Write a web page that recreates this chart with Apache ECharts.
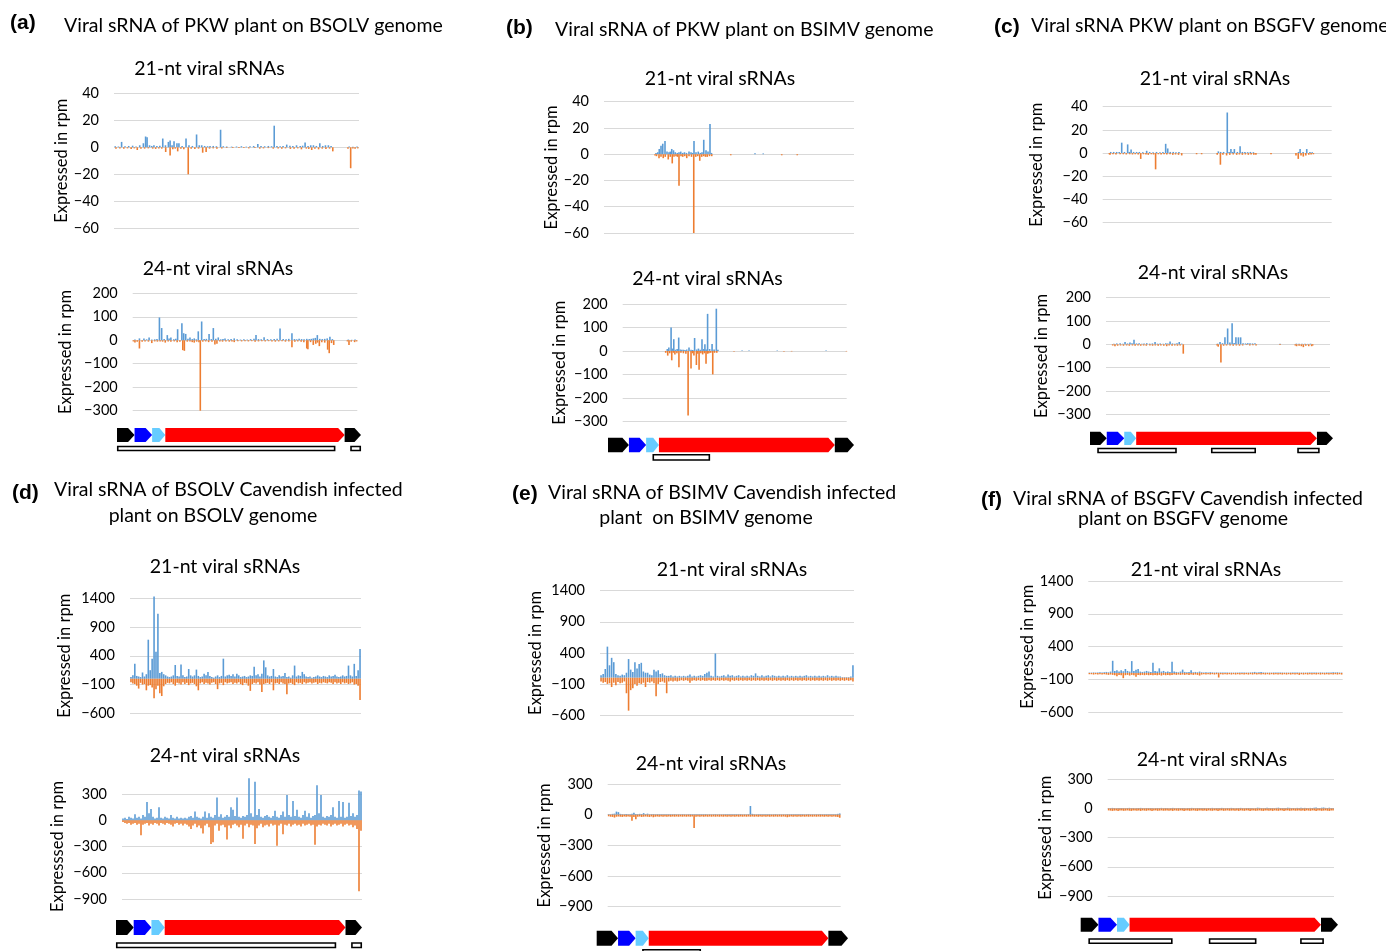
<!DOCTYPE html>
<html><head><meta charset="utf-8">
<script src="https://cdn.jsdelivr.net/npm/echarts@6/dist/echarts.min.js"></script>
<style>html,body{margin:0;padding:0;background:#fff}#c{width:1386px;height:951px}</style>
</head><body><div id="c"></div><script>
// ---------------- DATA (x = position along genome in %, y = rpm) ----------------
const a21Pos = [[0.5,0.8],[1.8,0.6],[3.1,4],[4.5,0.8],[6,1],[7.6,1.2],[9,0.6],[10.5,1.5],[12,3],[12.9,8],[13.5,7.5],[14.5,1.5],[15.4,1],[16.3,1.5],[17.5,1],[18.7,1.2],[19.9,6.5],[21,1.5],[22.2,4],[22.9,5],[23.7,1.5],[24.5,4.5],[25.7,3],[26.5,3],[27.8,1],[29.4,6.5],[30.6,1.5],[32,1],[33.7,9.5],[34.8,1.5],[35.8,1.5],[37,1],[38.2,0.8],[39.2,1],[40.5,1],[41.8,0.8],[43.5,13],[44.6,0.8],[46,0.6],[48,0.5],[50,0.6],[52,0.8],[54,0.5],[55.5,0.8],[57,1],[58.7,2.5],[60,1],[61.5,0.8],[63,1],[64.3,0.8],[65.4,16],[66.5,1],[67.8,0.8],[69,1],[70.5,2],[71.8,1.2],[73,1],[74.5,1.5],[76,1],[77,1.2],[78,3.5],[79.2,1],[80.3,1.5],[81.4,1.5],[82.6,1],[84,3],[85.2,1],[86.3,1.5],[87.5,1.5],[88.6,1],[96,0.6],[97.5,0.5],[99.2,0.6]];
const a21Neg = [[0.8,-1],[2.4,-0.8],[4,-1],[5.5,-0.8],[7,-1.2],[8.3,-0.8],[9.5,-2],[11,-1],[12.5,-1],[14,-0.8],[15.8,-1],[17,-1.2],[18.3,-0.8],[19.5,-1],[21.1,-3.5],[22.9,-6],[24,-1.5],[25,-1],[26,-3],[27.3,-1],[28.5,-1.5],[30.3,-20],[31.5,-1],[33,-1.2],[34.5,-1],[36.2,-4],[37.6,-3.5],[39,-1],[40.5,-0.8],[42,-1],[44,-0.8],[46,-0.5],[48.5,-0.6],[51,-0.5],[53,-0.6],[55,-0.8],[57.5,-0.6],[59.5,-1],[61,-0.8],[63,-0.6],[65,-1],[67,-0.8],[68.5,-1],[70,-0.8],[72,-1.2],[73.5,-1],[75,-0.8],[76.5,-1.5],[78.5,-1],[79.5,-1.2],[80.7,-2],[82,-1],[83.5,-1.5],[85,-1],[86.5,-1.2],[88,-1],[89.3,-3],[95.5,-1],[96.6,-15.5],[97.5,-0.8],[98.4,-1],[99.5,-0.8]];
const a24Pos = [[1,3],[3,8],[5,8],[6.2,4],[7.3,12],[8.5,3],[9.8,4],[10.8,5],[11.9,97],[12.9,52],[14,5],[15.4,22],[16.2,8],[17,12],[18.3,4],[19.2,6],[20,47],[21.9,72],[22.7,30],[23.6,27],[24.6,6],[25.5,12],[26.5,5],[27.4,8],[28.3,4],[29.2,38],[30.7,80],[31.8,5],[32.8,6],[34,27],[35,5],[35.9,52],[37,6],[38.1,12],[39.2,4],[40.2,5],[41.1,7],[42.5,4],[43.8,5],[45.2,8],[46.5,4],[48,3],[49.5,4],[51,3],[52.5,5],[54,6],[54.9,22],[56,5],[57.2,4],[58.5,13],[60,5],[61.5,4],[63,5],[64.3,6],[65.6,50],[67,5],[68.3,4],[69.5,6],[70.9,30],[72,5],[73,4],[74.1,6],[75.2,5],[76.3,4],[77.5,6],[78.6,5],[79.5,6],[80.4,8],[81.3,10],[82.2,22],[83.3,6],[84.4,5],[85.5,6],[86.6,8],[87.8,15],[88.9,5],[96,3],[97.5,2],[99,3]];
const a24Neg = [[0.3,-5],[1,-10],[2,-6],[3,-35],[4.2,-6],[5.5,-5],[7,-6],[8.5,-12],[9.8,-5],[11,-6],[12.2,-5],[13.3,-6],[14.5,-10],[15.8,-5],[17,-6],[18.5,-5],[19.8,-8],[21,-6],[22.3,-42],[23,-45],[24.3,-6],[25.5,-5],[26.5,-8],[27.4,-10],[28.5,-6],[29.5,-8],[30.1,-300],[31.2,-6],[32.5,-5],[33.8,-8],[35.3,-6],[36.6,-18],[37.5,-15],[38.8,-5],[40,-6],[41.5,-5],[43,-6],[44.2,-5],[45.2,-8],[46.8,-4],[48.5,-5],[50,-4],[51.5,-5],[53,-4],[54.5,-6],[56,-5],[57.5,-4],[59,-5],[60.5,-4],[62,-5],[63.5,-6],[65,-5],[66.5,-4],[68,-6],[69.5,-5],[70.9,-30],[72.2,-6],[73.5,-5],[75,-6],[76.2,-8],[77.5,-35],[78,-38],[79.2,-8],[80.4,-20],[81.5,-15],[82.3,-10],[83.1,-25],[84.2,-8],[85.5,-10],[86.8,-40],[87.5,-55],[88.5,-12],[89.5,-20],[95.6,-5],[96.3,-20],[97.3,-6],[98.8,-8],[99.7,-5]];
const b21Pos = [[20.8,1],[21.5,1.5],[22.1,4],[22.8,6.5],[23.5,8],[24.4,10],[25.2,2],[26,1.5],[26.5,2],[27.1,4],[27.8,3],[28.5,1.5],[29.3,1],[30,1.5],[30.7,2],[31.5,1],[32.2,1.5],[33,1],[34,2],[34.8,1.5],[35.4,1],[36,10],[36.8,1.5],[37.7,2],[38.5,1],[39.2,1.5],[39.9,11],[40.8,3],[41.6,2],[42.4,23],[43,1],[60.4,0.8],[63.7,0.6]];
const b21Neg = [[20.4,-1],[21,-1.5],[22,-3],[22.8,-2],[23.7,-3],[24.5,-2],[25.7,-4],[26.5,-2],[27.3,-7],[28,-2],[28.8,-1.5],[29.4,-2],[30,-24],[30.8,-1.5],[31.5,-2],[32.3,-1.5],[33.1,-3],[34,-1.5],[35,-2],[35.9,-60],[36.7,-2],[37.5,-1.5],[38.3,-5],[39.1,-2],[39.9,-1.5],[40.6,-2],[41.3,-2],[42.2,-1.5],[43.1,-1.5],[50.7,-0.8],[71.1,-0.8],[77.3,-0.8]];
const b24Pos = [[19.9,8],[20.6,15],[21.6,100],[22.2,10],[22.8,50],[23.5,5],[24.3,8],[25,57],[25.7,6],[26.4,5],[27.1,5],[27.8,4],[28.6,6],[29.6,15],[30.5,5],[31.3,4],[32.1,55],[33,6],[33.8,10],[34.6,5],[35.4,50],[36.1,8],[36.7,28],[37.3,6],[37.9,158],[38.8,8],[39.9,30],[40.8,6],[41.8,180],[42.5,5],[53.3,2],[56.4,2],[69,2],[90.8,2]];
const b24Neg = [[19.2,-8],[20.1,-20],[21,-10],[21.9,-40],[22.6,-8],[23.3,-15],[24.2,-10],[25.1,-70],[26,-8],[27.1,-10],[28.2,-12],[29.2,-275],[30.5,-75],[31.2,-10],[31.8,-20],[32.9,-60],[33.5,-12],[34.1,-80],[34.9,-10],[35.7,-15],[36.5,-10],[37.2,-55],[37.9,-12],[38.5,-10],[39.3,-8],[40.2,-100],[41,-8],[42,-8],[49.7,-2],[72,-2],[75.4,-2],[99.9,-2]];
const c21Pos = [[3.5,1],[4.8,1],[6.1,1],[7.2,1],[8.3,9],[9.5,1],[10.9,7.5],[11.6,1],[12.4,3],[13.5,1],[14.8,1],[16,1],[17.5,0.8],[19.2,2],[20.5,1],[22,0.8],[23.5,1],[25,0.8],[26.3,1],[27.5,8],[28.4,4],[29.5,1],[30.8,1],[32,0.8],[33.3,1],[50.5,1.5],[51.5,1],[52.8,1],[54.4,35],[55.2,1],[56,3.5],[56.8,1],[57.5,3.5],[58.8,1],[60,6],[61,1],[62.1,1],[63.3,0.8],[64.5,1],[65.8,0.8],[85.5,1],[86.2,3.5],[87.5,1],[89.1,3.5],[90.5,1],[91.5,0.8]];
const c21Neg = [[2.9,-1],[3.2,-1.5],[4.5,-1],[5.8,-1.2],[7.6,-1],[9,-1],[10.3,-1.2],[11.8,-1],[13,-1.2],[14.2,-1],[15.5,-1.2],[16.6,-5],[17.8,-1],[18.9,-1.2],[19.9,-1.5],[21.2,-1],[22.2,-1.2],[23.1,-14],[24.3,-1],[25.5,-1.2],[26.8,-1],[28,-1.2],[29.4,-1],[30.6,-1.5],[31.8,-1.2],[33.1,-1.5],[34.5,-2],[41,-1],[43.2,-1],[50,-1.5],[51.4,-10],[52.5,-1.5],[54.1,-2],[55.5,-1.5],[57,-1.2],[58.5,-1.5],[59.7,-1.2],[61,-1.5],[62.3,-1.2],[63.6,-1.5],[64.8,-1.2],[66,-1.5],[66.9,-1.5],[73.5,-1],[84.4,-2],[85.4,-5],[86.6,-2],[87.6,-3],[88.7,-2],[90,-1.5],[91,-1.2],[92,-1]];
const c24Pos = [[3.5,3],[4.8,4],[6.3,5],[7.5,3],[8.5,10],[9.6,4],[10.7,8],[11.6,5],[12.5,20],[13.6,4],[14.8,5],[16,3],[17,4],[18.2,5],[19.5,3],[20.7,4],[21.9,10],[23,3],[24.2,4],[25.5,3],[26.7,5],[27.6,4],[28.6,12],[29.7,4],[30.8,3],[31.7,5],[32.7,10],[33.8,3],[49.8,3],[50.9,10],[52,5],[53.1,30],[54.3,68],[55.3,8],[56.3,90],[57.2,6],[58,30],[59.1,30],[60.1,30],[61.2,5],[62.3,4],[63.3,5],[64.3,5],[65.4,4],[66.5,5],[77.7,2],[85,3],[86.2,2],[87.5,3],[88.8,3],[90,2],[91.3,3]];
const c24Neg = [[3,-5],[4,-8],[5.2,-6],[6.5,-5],[7.8,-6],[9.2,-5],[10.4,-6],[11.8,-5],[13,-6],[14.3,-5],[15.5,-6],[16.8,-5],[18,-6],[19.6,-5],[20.8,-6],[22,-5],[23.3,-6],[24.5,-5],[25.8,-6],[27.1,-8],[28.2,-5],[29.5,-6],[30.7,-5],[31.9,-6],[33.1,-5],[34.5,-40],[49.6,-5],[50.1,-10],[51.3,-78],[52.5,-6],[53.8,-5],[55.4,-5],[56.8,-6],[58.2,-5],[59.6,-6],[61,-5],[62.8,-3],[64.2,-5],[65.6,-4],[67,-5],[77.7,-3],[84.5,-5],[85.1,-8],[86.2,-6],[87.2,-8],[88.1,-12],[89.2,-6],[90.5,-8],[91.8,-8],[92.3,-5]];
// dense panels: evenly spaced bins along the genome
const d21Pos = [30,60,260,50,40,30,110,40,80,680,150,350,1430,470,1130,100,120,80,60,40,30,40,60,240,50,40,250,60,30,40,170,60,40,60,160,50,30,40,90,60,120,50,30,20,40,60,30,50,350,40,60,70,50,80,40,90,60,30,40,50,30,40,60,50,210,60,80,40,90,320,200,60,40,50,170,40,30,60,40,50,100,30,40,20,60,230,40,60,50,120,80,40,30,40,20,30,40,60,40,30,50,40,30,60,40,50,70,40,30,40,60,40,50,230,60,40,260,50,150,520];
const d21Neg = [-60,-80,-90,-120,-170,-70,-100,-90,-200,-120,-110,-150,-340,-180,-120,-250,-300,-130,-90,-70,-80,-60,-90,-120,-70,-80,-100,-60,-90,-70,-110,-80,-70,-90,-130,-200,-80,-60,-90,-70,-80,-100,-70,-60,-90,-180,-80,-70,-110,-60,-80,-70,-60,-90,-70,-80,-60,-90,-110,-70,-80,-120,-210,-90,-70,-80,-60,-100,-230,-90,-80,-70,-90,-60,-200,-80,-70,-90,-60,-80,-90,-270,-80,-70,-90,-110,-60,-80,-70,-90,-60,-80,-70,-60,-80,-70,-60,-90,-70,-80,-60,-70,-80,-60,-70,-90,-60,-80,-70,-90,-60,-80,-70,-90,-80,-60,-100,-90,-120,-370];
const d24Pos = [20,30,15,40,30,20,70,30,40,20,60,40,210,80,130,40,20,30,150,30,20,40,30,20,60,30,20,40,20,30,20,30,20,40,50,30,100,40,30,20,40,100,30,80,40,30,60,260,40,70,30,40,60,40,150,120,50,260,40,30,50,40,60,480,80,40,440,60,130,40,30,50,60,40,30,50,110,40,30,60,100,40,290,60,40,220,50,120,40,30,60,110,40,80,30,50,60,400,80,290,40,30,50,40,60,150,40,30,220,40,210,30,40,200,50,80,40,60,340,330];
const d24Neg = [-20,-30,-40,-30,-50,-40,-30,-50,-40,-170,-50,-40,-30,-60,-40,-50,-30,-40,-60,-30,-40,-50,-30,-40,-50,-70,-40,-30,-50,-40,-60,-40,-50,-70,-100,-60,-40,-80,-60,-90,-150,-60,-40,-80,-270,-250,-60,-40,-120,-60,-50,-80,-220,-60,-90,-50,-40,-60,-80,-50,-210,-60,-40,-80,-50,-60,-270,-90,-60,-40,-80,-60,-50,-70,-40,-60,-50,-290,-60,-40,-160,-50,-60,-40,-70,-50,-40,-60,-50,-70,-40,-60,-50,-40,-60,-50,-280,-70,-50,-60,-40,-50,-60,-40,-70,-50,-40,-60,-50,-40,-70,-50,-40,-60,-50,-80,-60,-100,-810,-120];
const e21Pos = [40,60,140,500,200,320,250,60,40,30,50,40,80,300,130,90,250,150,220,240,100,80,80,50,40,130,100,120,60,70,40,30,30,40,20,30,20,30,20,30,20,30,50,20,30,20,30,40,30,60,80,100,30,20,390,30,20,30,40,20,50,30,40,20,30,40,20,30,20,30,20,40,30,70,30,20,40,20,30,40,20,40,30,20,30,20,30,20,40,20,30,20,30,20,30,20,30,40,20,30,20,30,20,30,20,30,20,40,20,30,20,30,20,20,10,10,10,10,20,200];
const e21Neg = [-60,-80,-70,-100,-90,-150,-80,-120,-70,-90,-80,-60,-250,-530,-200,-170,-100,-130,-90,-100,-80,-150,-70,-80,-60,-90,-300,-100,-70,-60,-80,-250,-60,-50,-60,-50,-60,-50,-40,-50,-40,-50,-80,-50,-40,-50,-40,-50,-40,-50,-50,-40,-50,-40,-50,-40,-50,-40,-50,-40,-50,-60,-40,-50,-40,-50,-40,-50,-40,-50,-40,-50,-40,-50,-40,-50,-40,-50,-40,-50,-40,-50,-40,-50,-40,-50,-40,-50,-40,-50,-40,-50,-40,-50,-40,-50,-40,-50,-40,-50,-40,-50,-40,-50,-40,-50,-40,-50,-40,-50,-40,-50,-40,-50,-40,-50,-40,-50,-40,-60];
const e24Pos = [5,3,8,10,30,25,8,5,4,6,5,4,8,20,6,5,8,6,15,5,10,4,5,6,4,5,3,4,5,3,4,5,3,4,5,3,4,3,5,4,3,4,5,3,4,3,5,4,3,4,5,3,4,3,4,5,3,4,3,4,5,3,4,3,5,4,3,4,5,3,4,3,5,85,8,4,3,4,5,3,4,3,5,4,3,4,5,3,4,3,4,3,5,4,3,4,3,4,5,3,4,3,4,5,3,4,3,4,3,5,4,3,4,3,4,5,3,4,8,12];
const e24Neg = [-16,-20,-22,-28,-20,-18,-20,-22,-18,-20,-18,-20,-60,-22,-45,-20,-18,-22,-20,-18,-20,-22,-18,-25,-20,-18,-20,-18,-20,-18,-20,-18,-20,-18,-20,-18,-20,-18,-20,-18,-20,-18,-20,-18,-130,-20,-18,-20,-18,-20,-18,-20,-18,-20,-18,-20,-18,-20,-18,-20,-18,-20,-18,-20,-18,-20,-18,-20,-18,-20,-18,-20,-18,-20,-18,-20,-18,-20,-18,-20,-18,-20,-18,-20,-18,-20,-18,-20,-18,-20,-18,-20,-25,-20,-18,-20,-18,-20,-18,-20,-18,-20,-18,-20,-18,-20,-18,-20,-18,-20,-18,-20,-18,-20,-18,-20,-18,-20,-22,-30];
const f21Pos = [5,5,8,5,6,10,8,10,15,10,20,185,30,40,20,40,25,60,30,20,180,30,50,60,20,15,20,30,20,15,155,30,20,70,20,30,15,20,15,170,20,15,10,20,50,15,10,15,40,10,15,10,20,10,8,10,8,10,8,6,8,6,5,6,5,6,5,6,5,6,5,6,5,6,5,6,8,10,15,8,10,15,8,6,5,6,5,6,5,6,5,6,5,6,5,6,5,6,5,6,5,6,5,6,8,6,5,6,5,8,6,5,8,6,8,10,8,10,6,5];
const f21Neg = [-20,-20,-25,-20,-25,-20,-25,-20,-25,-30,-25,-30,-35,-50,-30,-35,-80,-35,-30,-40,-30,-35,-60,-30,-35,-30,-35,-30,-35,-30,-35,-30,-35,-30,-40,-30,-35,-30,-35,-30,-25,-30,-25,-30,-25,-30,-25,-30,-25,-30,-25,-30,-40,-25,-20,-25,-20,-25,-20,-25,-20,-70,-20,-25,-20,-25,-20,-25,-20,-25,-20,-25,-20,-25,-20,-25,-20,-25,-20,-25,-20,-25,-20,-25,-20,-25,-20,-25,-20,-25,-20,-25,-20,-25,-20,-25,-20,-25,-20,-30,-20,-25,-20,-25,-20,-25,-20,-25,-20,-25,-20,-25,-20,-25,-20,-25,-20,-25,-20,-25];
const f24Pos = [5,4,6,5,3,4,6,5,4,3,5,6,4,5,3,4,5,6,4,3,5,4,6,5,3,4,5,4,6,3,5,4,3,5,6,4,3,5,4,6,5,3,4,5,6,4,3,5,4,6,5,4,3,5,4,6,3,5,4,5,6,4,3,5,4,6,5,3,4,5,6,4,3,5,4,6,5,3,4,8,6,4,3,5,8,6,4,5,3,6,8,5,4,6,5,8,6,4,5,3,6,5,8,4,6,5,3,6,5,8,10,6,5,8,10,6,5,8,6,5];
const f24Neg = [-20,-22,-25,-22,-20,-25,-22,-20,-24,-22,-20,-23,-25,-22,-20,-24,-22,-25,-20,-22,-24,-20,-22,-25,-22,-20,-24,-22,-20,-23,-22,-20,-24,-22,-25,-20,-22,-24,-20,-22,-25,-22,-20,-24,-22,-20,-23,-25,-22,-20,-24,-22,-25,-20,-22,-24,-20,-22,-25,-22,-20,-24,-22,-20,-23,-22,-20,-24,-22,-25,-20,-22,-24,-20,-22,-25,-22,-20,-24,-22,-20,-23,-25,-22,-20,-24,-22,-25,-20,-22,-24,-20,-22,-25,-22,-20,-24,-22,-20,-23,-22,-20,-24,-22,-25,-20,-22,-24,-20,-22,-25,-22,-20,-24,-22,-20,-23,-25,-22,-20];

// genome maps: [start %, end %, colour index]
const bsolvGenes = [[0,7.2,0],[7.2,14.4,1],[14.4,19.8,2],[19.8,93.3,3],[93.3,100,0]];
const bsolvBoxes = [[0,89.5],[95.6,100]];
const bsimvGenes = [[0,8.5,0],[8.5,15.5,1],[15.5,20.7,2],[20.7,92.2,3],[92.2,100,0]];
const bsimvBoxes = [[18.1,41.5]];
const bsgfvGenes = [[0,6.9,0],[6.9,14.1,1],[14.1,19,2],[19,93.4,3],[93.4,100,0]];
const bsgfvBoxes = [[3,35.7],[49.8,68.3],[85.3,94.5]];

const yTicks21a = {min:-60, max:40, step:20};
const yTicks24a = {min:-300, max:200, step:100};
const yTicks21b = {min:-600, max:1400, step:500};
const yTicks24b = {min:-900, max:300, step:300};

// ---------------- LAYOUT ----------------
const BLUE = '#5B9BD5', ORANGE = '#ED7D31';
const GENE_COLORS = ['#000000', '#0000FF', '#66CCFF', '#FF0000'];
const FONT = 'Lato';

const PANELS = [
  {pos:a21Pos, neg:a21Neg, t:yTicks21a, l:114, r:359, top:93.3, bot:228.3, gap:43, name:'Expressed in rpm'},
  {pos:a24Pos, neg:a24Neg, t:yTicks24a, l:132.7, r:357.3, top:293.3, bot:410.7, gap:59, name:'Expressed in rpm'},
  {pos:b21Pos, neg:b21Neg, t:yTicks21a, l:604, r:854, top:101.7, bot:233, gap:42, name:'Expressed in rpm'},
  {pos:b24Pos, neg:b24Neg, t:yTicks24a, l:622.7, r:846.7, top:304, bot:421.3, gap:55, name:'Expressed in rpm'},
  {pos:c21Pos, neg:c21Neg, t:yTicks21a, l:1102.7, r:1331.7, top:106.7, bot:222.7, gap:58, name:'Expressed in rpm'},
  {pos:c24Pos, neg:c24Neg, t:yTicks24a, l:1106, r:1330, top:297.7, bot:414.3, gap:56, name:'Expressed in rpm'},
  {pos:d21Pos, neg:d21Neg, t:yTicks21b, l:130, r:361, top:598.3, bot:713.3, gap:57, name:'Expressed in rpm'},
  {pos:d24Pos, neg:d24Neg, t:yTicks24b, l:122, r:362, top:794, bot:899, gap:56, name:'Expresssed in rpm'},
  {pos:e21Pos, neg:e21Neg, t:yTicks21b, l:600, r:854, top:590.7, bot:715, gap:56, name:'Expressed in rpm'},
  {pos:e24Pos, neg:e24Neg, t:yTicks24b, l:607.7, r:840.7, top:784, bot:906.7, gap:55, name:'Expressed in rpm'},
  {pos:f21Pos, neg:f21Neg, t:yTicks21b, l:1088.3, r:1342.7, top:581, bot:712.3, gap:51, name:'Expressed in rpm'},
  {pos:f24Pos, neg:f24Neg, t:yTicks24b, l:1107.7, r:1334, top:779.3, bot:896, gap:54, name:'Expressed in rpm'}
];
const MAPS = [
  {genes:bsolvGenes, boxes:bsolvBoxes, l:117, r:361, top:428, ah:14, bt:17.7, bh:5.6},
  {genes:bsimvGenes, boxes:bsimvBoxes, l:608, r:854, top:437.7, ah:14.6, bt:16.3, bh:6.7},
  {genes:bsgfvGenes, boxes:bsgfvBoxes, l:1090, r:1333, top:431.7, ah:13.3, bt:16, bh:5.6},
  {genes:bsolvGenes, boxes:bsolvBoxes, l:116, r:362, top:920, ah:15, bt:22.3, bh:6},
  {genes:bsimvGenes, boxes:bsimvBoxes, l:596.7, r:848, top:930.7, ah:15, bt:18.3, bh:8},
  {genes:bsgfvGenes, boxes:bsgfvBoxes, l:1080.7, r:1338, top:917.7, ah:14, bt:20.6, bh:5.7}
];
const TEXTS = [
  ['(a)', 10, 23, 'b'], ['Viral sRNA of PKW plant on BSOLV genome', 64, 26, 't'],
  ['(b)', 506, 28, 'b'], ['Viral sRNA of PKW plant on BSIMV genome', 555, 30, 't'],
  ['(c)', 994, 27, 'b'], ['Viral sRNA PKW plant on BSGFV genome', 1031, 26, 't'],
  ['(d)', 12, 493, 'b'], ['Viral sRNA of BSOLV Cavendish infected', 54, 490, 't'], ['plant on BSOLV genome', 213, 516, 'tc'],
  ['(e)', 512, 494, 'b'], ['Viral sRNA of BSIMV Cavendish infected', 548, 493, 't'], ['plant  on BSIMV genome', 706, 518, 'tc'],
  ['(f)', 981, 500, 'b'], ['Viral sRNA of BSGFV Cavendish infected', 1013, 499, 't'], ['plant on BSGFV genome', 1183, 519, 'tc'],
  ['21-nt viral sRNAs', 209.5, 69, 's'], ['24-nt viral sRNAs', 218, 269, 's'],
  ['21-nt viral sRNAs', 720, 79, 's'], ['24-nt viral sRNAs', 707.5, 279, 's'],
  ['21-nt viral sRNAs', 1215, 79, 's'], ['24-nt viral sRNAs', 1213, 273, 's'],
  ['21-nt viral sRNAs', 225, 567, 's'], ['24-nt viral sRNAs', 225, 756, 's'],
  ['21-nt viral sRNAs', 732, 570, 's'], ['24-nt viral sRNAs', 711, 764, 's'],
  ['21-nt viral sRNAs', 1206, 570, 's'], ['24-nt viral sRNAs', 1212, 760, 's']
];

// ---------------- BUILD ----------------
const toPairs = arr => typeof arr[0] === 'number' ? arr.map((v, i) => [(i + 0.5) * 100 / arr.length, v]) : arr;
const grid = [], xAxis = [], yAxis = [], series = [];
const minus = v => String(v).replace('-', '\u2212');

PANELS.forEach((p, i) => {
  grid.push({left:p.l, width:p.r - p.l, top:p.top, height:p.bot - p.top});
  xAxis.push({type:'value', gridIndex:i, min:0, max:100, show:false});
  yAxis.push({type:'value', gridIndex:i, min:p.t.min, max:p.t.max, interval:p.t.step,
    axisLine:{show:false}, axisTick:{show:false},
    axisLabel:{formatter:minus, color:'#000', fontSize:14.5, fontFamily:FONT, margin:15},
    splitLine:{lineStyle:{color:'#D9D9D9', width:1}},
    name:p.name, nameLocation:'middle', nameRotate:90, nameGap:p.gap,
    nameTextStyle:{color:'#000', fontSize:16.5, fontFamily:FONT}});
  [[p.pos, BLUE], [p.neg, ORANGE]].forEach(([d, c]) => series.push({
    type:'bar', xAxisIndex:i, yAxisIndex:i, data:toPairs(d), barWidth:1.6, barGap:'-100%',
    itemStyle:{color:c}, clip:false, silent:true, animation:false
  }));
});

MAPS.forEach((m, k) => {
  const gi = PANELS.length + k;
  grid.push({left:m.l, width:m.r - m.l, top:m.top, height:m.bt + m.bh});
  xAxis.push({type:'value', gridIndex:gi, min:0, max:100, show:false});
  yAxis.push({type:'value', gridIndex:gi, min:0, max:1, show:false});
  series.push({type:'custom', xAxisIndex:gi, yAxisIndex:gi, data:m.genes, silent:true, animation:false, clip:false,
    encode:{x:[0,1]},
    renderItem:(params, api) => {
      const x0 = api.coord([api.value(0), 0])[0], x1 = api.coord([api.value(1), 0])[0];
      const top = params.coordSys.y, h = m.ah, tip = Math.min(6.5, (x1 - x0) * 0.45);
      return {type:'polygon', shape:{points:[[x0, top], [x1 - tip, top], [x1, top + h / 2], [x1 - tip, top + h], [x0, top + h]]},
        style:{fill:GENE_COLORS[api.value(2)]}};
    }});
  series.push({type:'custom', xAxisIndex:gi, yAxisIndex:gi, data:m.boxes, silent:true, animation:false, clip:false,
    encode:{x:[0,1]},
    renderItem:(params, api) => {
      const x0 = api.coord([api.value(0), 0])[0], x1 = api.coord([api.value(1), 0])[0];
      const top = params.coordSys.y + m.bt;
      return {type:'rect', shape:{x:x0 + 0.75, y:top + 0.75, width:x1 - x0 - 1.5, height:m.bh - 1.5},
        style:{fill:'#fff', stroke:'#000', lineWidth:1.6}};
    }});
});

const STY = {b:{size:21, w:'bold', fam:'"Liberation Sans", Arial, sans-serif', al:'left'},
             t:{size:19.5, w:'normal', fam:FONT, al:'left'}, tc:{size:19.5, w:'normal', fam:FONT, al:'center'},
             s:{size:19.5, w:'normal', fam:FONT, al:'center'}};
const graphic = TEXTS.map(([text, x, y, k]) => {
  const s = STY[k];
  return {type:'text', x, y, silent:true, style:{text, fill:'#000', font:`${s.w} ${s.size}px ${s.fam}`,
    align:s.al, textAlign:s.al, verticalAlign:'middle', textVerticalAlign:'middle'}};
});

const chart = echarts.init(document.getElementById('c'), null, {renderer:'canvas'});
chart.setOption({backgroundColor:'#fff', animation:false, grid, xAxis, yAxis, series, graphic});
</script></body></html>
